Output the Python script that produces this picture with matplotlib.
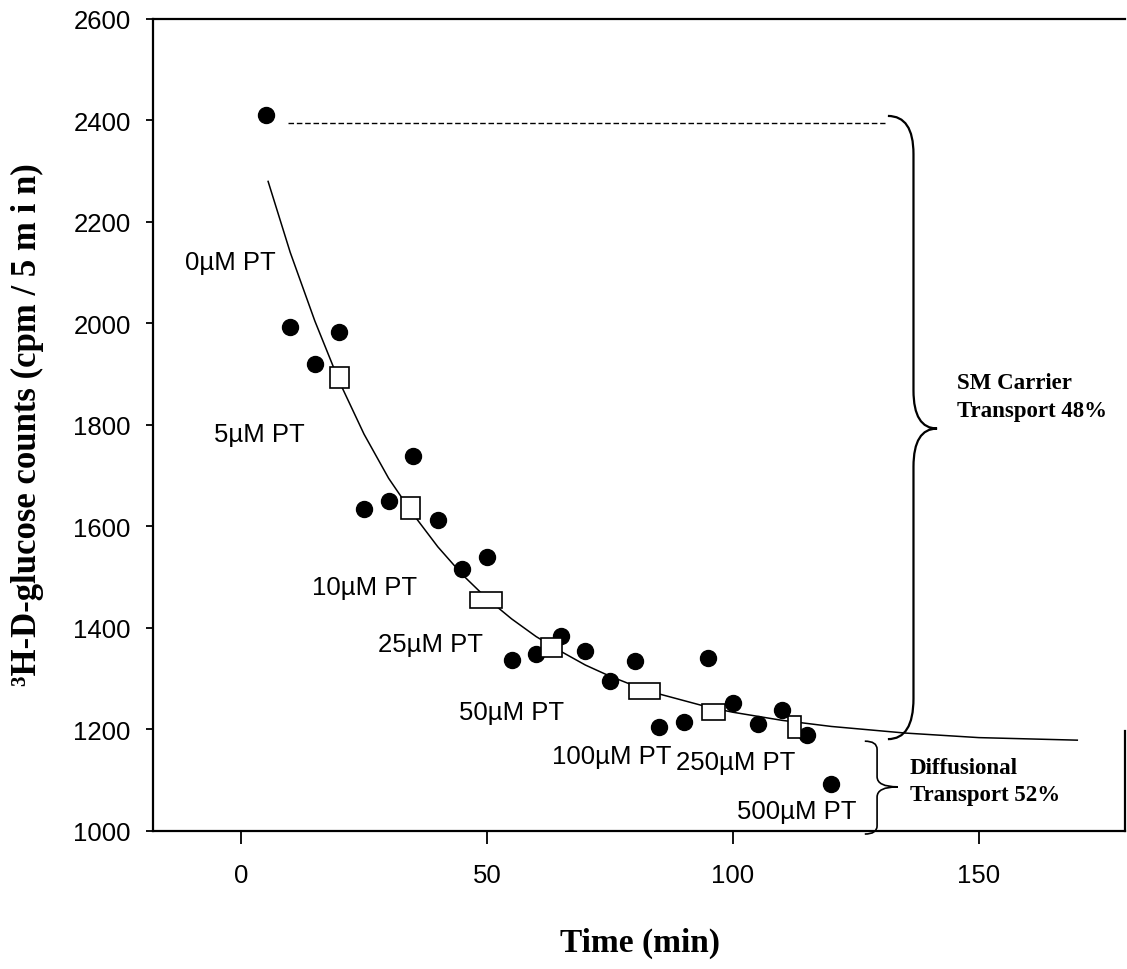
import matplotlib
matplotlib.use("Agg")
import matplotlib.pyplot as plt
from matplotlib.path import Path
from matplotlib.patches import PathPatch, Rectangle

# ---------------- data ----------------
time_pts = [5, 10, 15, 20, 25, 30, 35, 40, 45, 50, 55, 60, 65, 70, 75, 80,
            85, 90, 95, 100, 105, 110, 115, 120]
counts_pts = [2410, 1993, 1920, 1983, 1635, 1650, 1738, 1613, 1516, 1540, 1337,
              1349, 1385, 1355, 1296, 1335, 1205, 1215, 1341, 1252, 1211, 1238,
              1189, 1093]

# mean boxes (open rectangles) and their half-extents
box_x = [20, 34.5, 49.8, 63.1, 82, 96, 112.5]
box_y = [1893, 1637, 1455, 1362, 1276, 1234, 1205]
box_xerr = [1.95, 1.95, 3.35, 2.15, 3.15, 2.35, 1.3]
box_yerr = [21, 22, 16, 19, 15, 16, 21]

# fitted curve
curve_x = [5.5, 10, 15, 20, 25, 30, 35, 40, 45, 50, 55, 60, 65, 70, 75, 80,
           85, 90, 95, 100, 110, 120, 135, 150, 170]
curve_y = [2280, 2140, 2005, 1885, 1782, 1695, 1624, 1560, 1505, 1458, 1418,
           1383, 1354, 1327, 1305, 1286, 1270, 1257, 1244, 1234, 1218, 1206,
           1193, 1184, 1179]

conc_labels = ["0µM PT", "5µM PT", "10µM PT", "25µM PT", "50µM PT",
               "100µM PT", "250µM PT", "500µM PT"]
conc_lx = [-2.2, 3.7, 25.2, 38.5, 55, 75.4, 100.5, 113]
conc_ly = [2121, 1782, 1481, 1368, 1234, 1148, 1136, 1039]

x_ticks = [0, 50, 100, 150]
y_ticks = [1000, 1200, 1400, 1600, 1800, 2000, 2200, 2400, 2600]

# ---------------- figure ----------------
fig = plt.figure(figsize=(11.27, 9.70), dpi=100)
ax = fig.add_axes([153 / 1127, 138 / 970, 972 / 1127, 812 / 970])
ax.set_xlim(-17.9, 179.7)
ax.set_ylim(1000, 2600)

sans = "Liberation Sans"
serif = "Liberation Serif"

# curve
ax.plot(curve_x, curve_y, color="black", lw=1.1, zorder=2)

# dots
ax.plot(time_pts, counts_pts, "o", color="black", ms=11.5, zorder=3)

# boxes
for bx, by, ex, ey in zip(box_x, box_y, box_xerr, box_yerr):
    ax.add_patch(Rectangle((bx - ex, by - ey), 2 * ex, 2 * ey,
                           facecolor="white", edgecolor="black", lw=1.2,
                           zorder=4))

# concentration labels
for t, lx, ly in zip(conc_labels, conc_lx, conc_ly):
    ax.text(lx, ly, t, ha="center", va="center", fontsize=18.5,
            family=sans, zorder=5)

# dashed reference line
ax.plot([9.5, 131], [2395, 2395], ls=(0, (4, 2)), color="black", lw=1.0,
        zorder=2)


def brace(x0, xv, xc, ytop, ymid, ybot, r_top, r_mid, r_bot, lw):
    verts = [(x0, ytop), (xv, ytop), (xv, ytop - r_top),
             (xv, ymid + r_mid), (xv, ymid), (xc, ymid),
             (xv, ymid), (xv, ymid - r_mid),
             (xv, ybot + r_bot), (xv, ybot), (x0, ybot)]
    codes = [Path.MOVETO, Path.CURVE3, Path.CURVE3,
             Path.LINETO, Path.CURVE3, Path.CURVE3,
             Path.CURVE3, Path.CURVE3,
             Path.LINETO, Path.CURVE3, Path.CURVE3]
    ax.add_patch(PathPatch(Path(verts, codes), facecolor="none",
                           edgecolor="black", lw=lw, clip_on=False, zorder=3))


brace(131.5, 136.7, 141.5, 2409, 1793, 1181, 75, 75, 80, 1.6)
brace(126.8, 129.3, 133.5, 1177, 1087, 994, 16, 20, 16, 1.2)

ax.text(145.5, 1856, "SM Carrier\nTransport 48%", ha="left", va="center",
        fontsize=16.5, family=serif, fontweight="bold", linespacing=1.4)
ax.text(136, 1098, "Diffusional\nTransport 52%", ha="left", va="center",
        fontsize=16.5, family=serif, fontweight="bold", linespacing=1.4)

# axes styling
for s in ["left", "top", "bottom", "right"]:
    ax.spines[s].set_linewidth(1.6)
ax.spines["right"].set_bounds(1000, 1197)

ax.set_xticks(x_ticks)
ax.set_yticks(y_ticks)
ax.tick_params(axis="x", direction="out", length=9, width=1.3, pad=14,
               labelsize=18.5)
ax.tick_params(axis="y", direction="out", length=5, width=1.3, pad=11,
               labelsize=18.5)
for lab in ax.get_xticklabels() + ax.get_yticklabels():
    lab.set_family(sans)

fig.text(640 / 1127, 1 - 943 / 970, "Time (min)", ha="center", va="center",
         fontsize=24, family=serif, fontweight="bold")
fig.text(27 / 1127, 1 - 425 / 970, "³H-D-glucose counts (cpm / 5 m i n)",
         ha="center", va="center", rotation=90, fontsize=25, family=serif,
         fontweight="bold")

fig.savefig("out.png", dpi=100)
